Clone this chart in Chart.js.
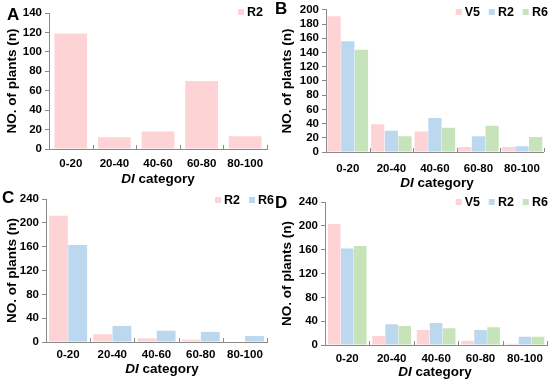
<!DOCTYPE html>
<html>
<head>
<meta charset="utf-8">
<script src="https://cdn.jsdelivr.net/npm/chart.js@4/dist/chart.umd.min.js"></script>
<style>
  body { margin: 0; background: #fff; }
  #wrap { position: relative; width: 550px; height: 379px; overflow: hidden; font-family: Arial, "Liberation Sans", sans-serif; }
  .panel { position: absolute; width: 275px; height: 190px; }
  .letter { position: absolute; font-weight: bold; font-size: 17px; color: #000; }
  .xtitle { position: absolute; font-weight: bold; font-size: 13.5px; color: #000; transform: translate(-50%, -50%); white-space: nowrap; }
  .legend { position: absolute; display: flex; align-items: center; font-weight: bold; font-size: 12.5px; transform: translate(-100%, -50%); white-space: nowrap; }
  .legend span.box { display: inline-block; width: 6px; height: 6px; margin-right: 3px; }
  .legend span.item { display: inline-flex; align-items: center; margin-left: 9px; }
</style>
</head>
<body>
<div id="wrap">
  <div class="panel" style="left:0;top:0"><canvas id="cA"></canvas></div>
  <div class="panel" style="left:275px;top:0"><canvas id="cB"></canvas></div>
  <div class="panel" style="left:0;top:189px"><canvas id="cC"></canvas></div>
  <div class="panel" style="left:275px;top:189px"><canvas id="cD"></canvas></div>
</div>
<script>
const categories = ['0-20', '20-40', '40-60', '60-80', '80-100'];

// panel A (R2 only)
const aR2 = [119, 12, 18, 70, 13];
// panel B
const bV5 = [191, 39, 29, 7, 7];
const bR2 = [156, 30, 48, 22, 8];
const bR6 = [144, 22, 34, 37, 21];
// panel C
const cR2 = [212, 13, 6, 4, 0];
const cR6 = [163, 27, 19, 17, 10];
// panel D
const dV5 = [203, 15, 25, 7, 2];
const dR2 = [162, 35, 37, 25, 14];
const dR6 = [166, 32, 28, 30, 14];

const yMaxA = 140, yStepA = 20;
const yMaxB = 200, yStepB = 20;
const yMaxC = 240, yStepC = 40;
const yMaxD = 240, yStepD = 40;

const PINK = '#fdd3d5';
const BLUE = '#bcd8ee';
const GREEN = '#c7e3b9';
const AXIS = '#8a8a8a';

// small upward tick marks on the x axis between categories
const xTicksUp = {
  id: 'xTicksUp',
  afterDraw(chart) {
    const x = chart.scales.x, ctx = chart.ctx;
    const n = chart.data.labels.length;
    ctx.save();
    ctx.strokeStyle = AXIS;
    ctx.lineWidth = 1;
    ctx.beginPath();
    for (let i = 1; i <= n; i++) {
      let px;
      if (i < n) px = (x.getPixelForValue(i - 1) + x.getPixelForValue(i)) / 2;
      else px = x.right;
      px = Math.round(px) + 0.5;
      ctx.moveTo(px, x.top);
      ctx.lineTo(px, x.top - 4);
    }
    ctx.stroke();
    ctx.restore();
  }
};

function makeChart(id, datasets, opts) {
  const ctx = document.getElementById(id);
  const chart = new Chart(ctx, {
    type: 'bar',
    data: {
      labels: categories,
      datasets: datasets.map(d => ({
        label: d.label,
        data: d.data,
        backgroundColor: d.color,
        borderWidth: 0,
        barPercentage: opts.barPct,
        categoryPercentage: opts.catPct
      }))
    },
    options: {
      responsive: true,
      maintainAspectRatio: false,
      animation: false,
      layout: { padding: { top: opts.top, right: opts.right, left: 0, bottom: 0 } },
      plugins: { legend: { display: false }, tooltip: { enabled: false } },
      scales: {
        x: {
          grid: { display: false, drawTicks: false },
          border: { color: AXIS, width: 1 },
          ticks: { color: '#000', font: { family: 'Arial', size: 11.5, weight: 'bold' }, padding: opts.xPad, maxRotation: 0 },
          afterFit: s => { s.height = opts.bottom; }
        },
        y: {
          min: 0, max: opts.max,
          grid: { drawOnChartArea: false, tickLength: 4, color: AXIS },
          border: { color: AXIS, width: 1 },
          ticks: { stepSize: opts.step, autoSkip: false, color: '#000', font: { family: 'Arial', size: 11.5, weight: 'bold' }, padding: 3 },
          title: { display: true, text: 'NO. of plants (n)', color: '#000', font: { family: 'Arial', size: 13.5, weight: 'bold' }, padding: { top: 4, bottom: 0 } },
          afterFit: s => { s.width = opts.left; }
        }
      }
    },
    plugins: [xTicksUp]
  });

  const wrap = document.getElementById('wrap');
  // panel letter
  const L = document.createElement('div');
  L.className = 'letter';
  L.textContent = opts.letter;
  L.style.left = opts.letterX + 'px';
  L.style.top = opts.letterY + 'px';
  wrap.appendChild(L);
  // x title
  const T = document.createElement('div');
  T.className = 'xtitle';
  T.innerHTML = '<i>DI</i> category';
  T.style.left = opts.xtX + 'px';
  T.style.top = opts.xtY + 'px';
  wrap.appendChild(T);
  // legend built from datasets
  const G = document.createElement('div');
  G.className = 'legend';
  G.style.left = opts.legX + 'px';
  G.style.top = opts.legY + 'px';
  chart.data.datasets.forEach(ds => {
    const it = document.createElement('span');
    it.className = 'item';
    const b = document.createElement('span');
    b.className = 'box';
    b.style.background = ds.backgroundColor;
    it.appendChild(b);
    it.appendChild(document.createTextNode(ds.label));
    G.appendChild(it);
  });
  wrap.appendChild(G);
  return chart;
}

makeChart('cA', [
  { label: 'R2', data: aR2, color: PINK }
], { max: yMaxA, step: yStepA, left: 49, right: 8, top: 13, bottom: 41, xPad: 8, barPct: 1, catPct: 0.75,
     letter: 'A', letterX: 7, letterY: 5, xtX: 158, xtY: 178, legX: 263, legY: 12 });

makeChart('cB', [
  { label: 'V5', data: bV5, color: PINK },
  { label: 'R2', data: bR2, color: BLUE },
  { label: 'R6', data: bR6, color: GREEN }
], { max: yMaxB, step: yStepB, left: 51, right: 1, top: 7, bottom: 38, xPad: 10, barPct: 0.97, catPct: 0.94,
     letter: 'B', letterX: 275, letterY: -1, xtX: 437, xtY: 182, legX: 548, legY: 12 });

makeChart('cC', [
  { label: 'R2', data: cR2, color: PINK },
  { label: 'R6', data: cR6, color: BLUE }
], { max: yMaxC, step: yStepC, left: 46, right: 8, top: 10, bottom: 37, xPad: 6, barPct: 0.98, catPct: 0.87,
     letter: 'C', letterX: 2, letterY: 188, xtX: 162, xtY: 368, legX: 274, legY: 200 });

makeChart('cD', [
  { label: 'V5', data: dV5, color: PINK },
  { label: 'R2', data: dR2, color: BLUE },
  { label: 'R6', data: dR6, color: GREEN }
], { max: yMaxD, step: yStepD, left: 50, right: 1, top: 13, bottom: 34, xPad: 7, barPct: 0.97, catPct: 0.88,
     letter: 'D', letterX: 275, letterY: 193, xtX: 435, xtY: 371, legX: 548, legY: 202 });
</script>
</body>
</html>
